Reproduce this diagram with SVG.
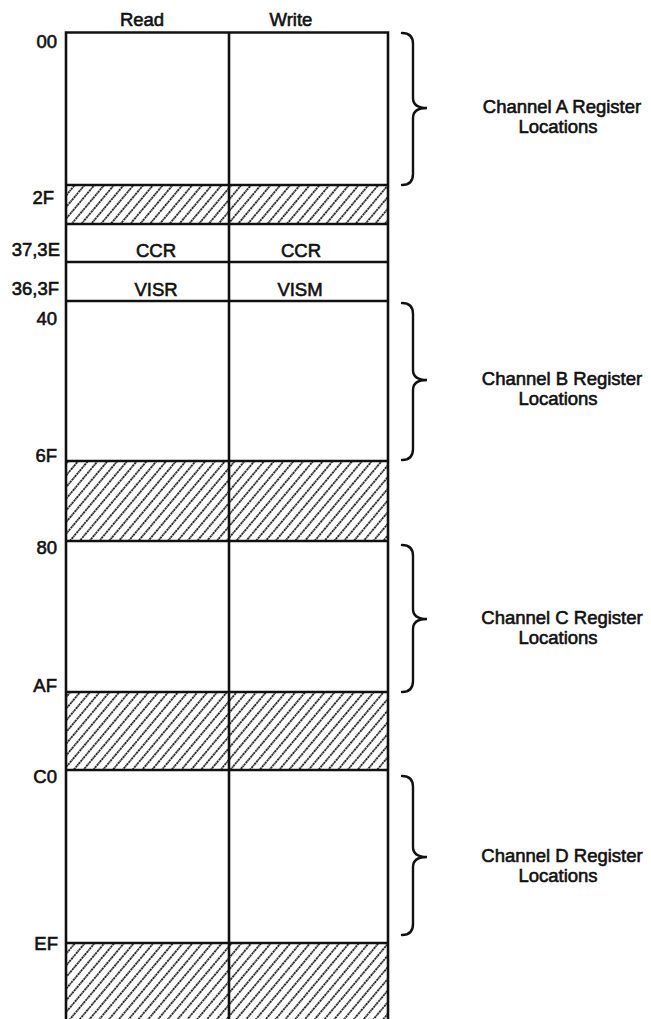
<svg xmlns="http://www.w3.org/2000/svg" width="651" height="1019" viewBox="0 0 651 1019">
<style>
text{font-family:"Liberation Sans",Arial,sans-serif;font-size:18.5px;fill:#111;stroke:#111;stroke-width:0.6}
.r{text-anchor:end}
.m{text-anchor:middle}
.ln{stroke:#111;stroke-width:2.6;fill:none}
.br{stroke:#111;stroke-width:2.4;fill:none;stroke-linecap:round}
.h{fill:url(#hatch)}
</style>
<defs>
<pattern id="hatch" patternUnits="userSpaceOnUse" width="7.5" height="7.5" patternTransform="rotate(40)">
<line x1="3.75" y1="0" x2="3.75" y2="7.5" stroke="#222" stroke-width="1.8" stroke-dasharray="1.8 0.6"/>
</pattern>
</defs>
<rect width="651" height="1019" fill="#fff"/>
<g id="headers">
<text class="m" x="142" y="26">Read</text>
<text class="m" x="291" y="26">Write</text>
</g>
<g id="hatched">
<rect class="h" x="66" y="185" width="322" height="39"/>
<rect class="h" x="66" y="461" width="322" height="80"/>
<rect class="h" x="66" y="692" width="322" height="78"/>
<rect class="h" x="66" y="943" width="322" height="76"/>
</g>
<g id="grid">
<path class="ln" d="M66,1019 V32.5 H388 V1019 M229,32.5 V1019 M66,185 H388 M66,224 H388 M66,262 H388 M66,301 H388 M66,461 H388 M66,541 H388 M66,692 H388 M66,770 H388 M66,943 H388"/>
</g>
<g id="ccr-row">
<text class="m" x="156" y="257">CCR</text>
<text class="m" x="301" y="257">CCR</text>
</g>
<g id="vis-row">
<text class="m" x="156" y="296">VISR</text>
<text class="m" x="300" y="296">VISM</text>
</g>
<g id="addresses">
<text class="r" x="57" y="48">00</text>
<text class="r" x="54" y="204">2F</text>
<text class="r" x="60" y="256">37,3E</text>
<text class="r" x="59" y="295">36,3F</text>
<text class="r" x="57" y="325">40</text>
<text class="r" x="57" y="462">6F</text>
<text class="r" x="57" y="554">80</text>
<text class="r" x="57" y="692">AF</text>
<text class="r" x="57" y="783">C0</text>
<text class="r" x="58" y="950">EF</text>
</g>
<g id="connectors">
<path class="br" d="M402,33 Q413,33 413,44 L413,98 Q413,108 427,108 Q413,108 413,118 L413,174 Q413,185 402,185"/>
<path class="br" d="M402,303 Q413,303 413,314 L413,370 Q413,380 427,380 Q413,380 413,390 L413,449 Q413,460 402,460"/>
<path class="br" d="M402,545 Q413,545 413,556 L413,609 Q413,619 427,619 Q413,619 413,629 L413,681 Q413,692 402,692"/>
<path class="br" d="M402,776 Q413,776 413,787 L413,847 Q413,857 427,857 Q413,857 413,867 L413,924 Q413,935 402,935"/>
</g>
<g id="channel-a"><text class="m" x="562" y="113">Channel A Register</text><text class="m" x="558" y="133">Locations</text></g>
<g id="channel-b"><text class="m" x="562" y="385">Channel B Register</text><text class="m" x="558" y="405">Locations</text></g>
<g id="channel-c"><text class="m" x="562" y="624">Channel C Register</text><text class="m" x="558" y="644">Locations</text></g>
<g id="channel-d"><text class="m" x="562" y="862">Channel D Register</text><text class="m" x="558" y="882">Locations</text></g>
</svg>
